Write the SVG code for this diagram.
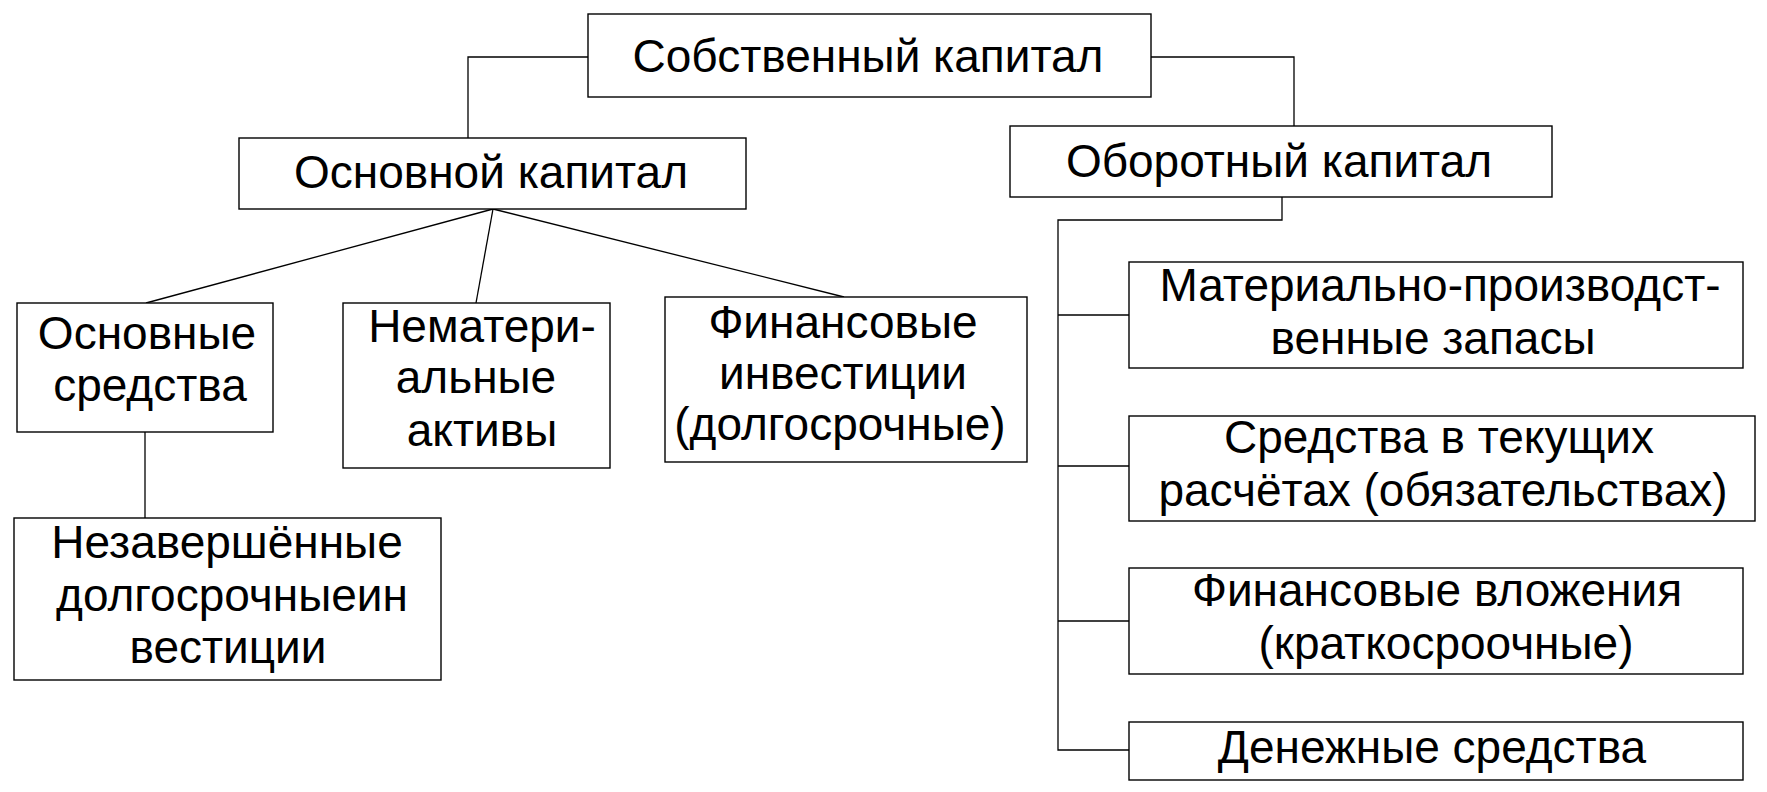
<svg xmlns="http://www.w3.org/2000/svg" width="1767" height="792" viewBox="0 0 1767 792">
<style>
.box{fill:#fff;stroke:#000;stroke-width:1.4}
.t{font-family:"Liberation Sans",Arial,sans-serif;font-size:46px;fill:#000;text-anchor:middle}
.c{fill:none;stroke:#000;stroke-width:1.3}
</style>
<rect width="1767" height="792" fill="#fff"/>
<g id="connectors">
<polyline class="c" points="588,57 468,57 468,138"/>
<polyline class="c" points="1151,57 1294,57 1294,126"/>
<line class="c" x1="493" y1="209" x2="146" y2="303"/>
<line class="c" x1="493" y1="209" x2="476" y2="303"/>
<line class="c" x1="493" y1="209" x2="844" y2="297"/>
<line class="c" x1="145" y1="432" x2="145" y2="518"/>
<polyline class="c" points="1282,197 1282,220 1058,220 1058,750 1129,750"/>
<line class="c" x1="1058" y1="315" x2="1129" y2="315"/>
<line class="c" x1="1058" y1="466" x2="1129" y2="466"/>
<line class="c" x1="1058" y1="621" x2="1129" y2="621"/>
</g>
<g id="n-sobstv">
<rect class="box" x="588" y="14" width="563" height="83"/>
<text class="t" x="868" y="72">Собственный капитал</text>
</g>
<g id="n-osnovnoy">
<rect class="box" x="239" y="138" width="507" height="71"/>
<text class="t" x="491" y="188">Основной капитал</text>
</g>
<g id="n-oborotny">
<rect class="box" x="1010" y="126" width="542" height="71"/>
<text class="t" x="1279" y="177">Оборотный капитал</text>
</g>
<g id="n-osn-sredstva">
<rect class="box" x="17" y="303" width="256" height="129"/>
<text class="t" x="147" y="349">Основные</text>
<text class="t" x="150" y="401">средства</text>
</g>
<g id="n-nemater">
<rect class="box" x="343" y="303" width="267" height="165"/>
<text class="t" x="482" y="342">Нематери-</text>
<text class="t" x="476" y="393">альные</text>
<text class="t" x="482" y="446">активы</text>
</g>
<g id="n-fin-invest">
<rect class="box" x="665" y="297" width="362" height="165"/>
<text class="t" x="843" y="338">Финансовые</text>
<text class="t" x="843" y="389">инвестиции</text>
<text class="t" x="840" y="440">(долгосрочные)</text>
</g>
<g id="n-nezavershen">
<rect class="box" x="14" y="518" width="427" height="162"/>
<text class="t" x="227" y="558">Незавершённые</text>
<text class="t" x="232" y="611">долгосрочныеин</text>
<text class="t" x="228" y="663">вестиции</text>
</g>
<g id="n-materialno">
<rect class="box" x="1129" y="262" width="614" height="106"/>
<text class="t" x="1440" y="301">Материально-производст-</text>
<text class="t" x="1433" y="354">венные запасы</text>
</g>
<g id="n-sredstva-rasch">
<rect class="box" x="1129" y="416" width="626" height="105"/>
<text class="t" x="1439" y="453">Средства в текущих</text>
<text class="t" x="1443" y="506">расчётах (обязательствах)</text>
</g>
<g id="n-fin-vlozh">
<rect class="box" x="1129" y="568" width="614" height="106"/>
<text class="t" x="1437" y="606">Финансовые вложения</text>
<text class="t" x="1446" y="659">(краткосроочные)</text>
</g>
<g id="n-denezhnye">
<rect class="box" x="1129" y="722" width="614" height="58"/>
<text class="t" x="1432" y="763">Денежные средства</text>
</g>
</svg>
